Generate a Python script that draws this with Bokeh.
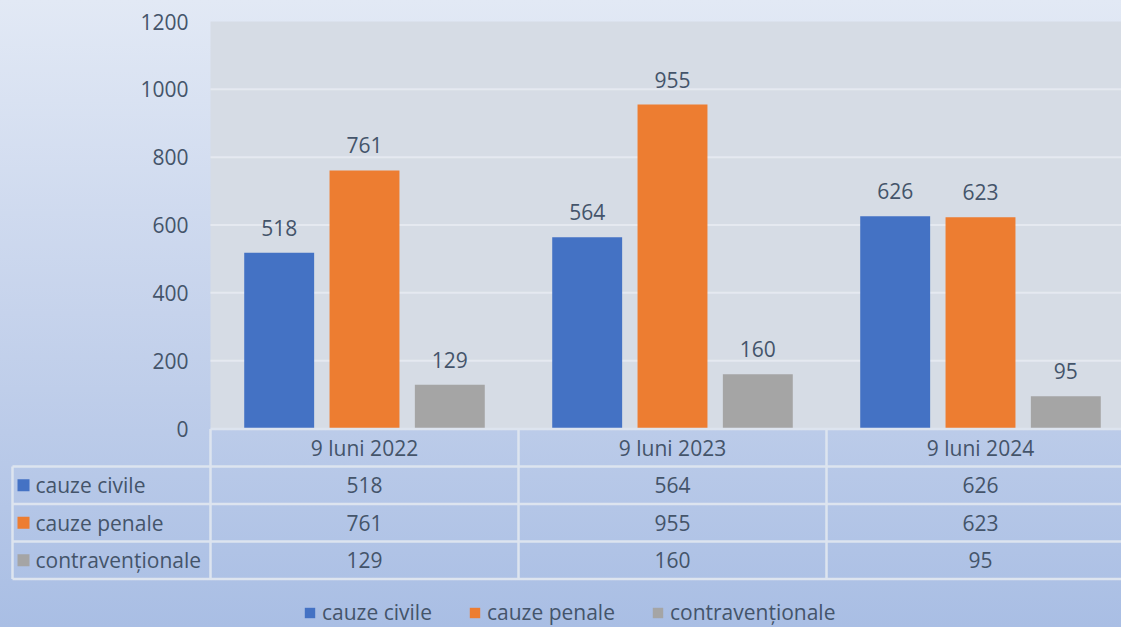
from bokeh.plotting import figure
from bokeh.models import (ColumnDataSource, Range1d, Legend, LegendItem, BoxAnnotation)
from bokeh.transform import dodge
from bokeh.core.properties import value
from bokeh.embed import file_html
from bokeh.resources import INLINE

# ---------------- data ----------------
categories = ["9 luni 2022", "9 luni 2023", "9 luni 2024"]
series_names = ["cauze civile", "cauze penale", "contravenționale"]
civile = [518, 564, 626]
penale = [761, 955, 623]
contrav = [129, 160, 95]
y_ticks = [0, 200, 400, 600, 800, 1000, 1200]

# ---------------- layout / style ----------------
colors = ["#4472c4", "#ed7d31", "#a5a5a5"]
FONT = "Open Sans"
FS = "21px"
TXT = "#44546a"
PLOT_BG = "#d6dce5"
GRID = "#e5e9f0"
TABLE_LINE = "#dde4ef"
W, H = 1121, 627
CAT_PX = 308.0          # pixels per category
PLOT_LEFT = 210         # left edge of plot area (px)
PLOT_TOP, PLOT_BOTTOM = 21, 428
ROW_PX = 37.5
ROW1_TOP = 466          # top of first series row of the table (px)
TABLE_LEFT = 12
BAR_W = 0.227
offsets = [-0.277, 0.0, 0.277]
Y_MAX = y_ticks[-1]

# ranges derived from pixel geometry (frame = whole canvas)
x0 = -0.5 - PLOT_LEFT / CAT_PX
x1 = -0.5 + (W - PLOT_LEFT) / CAT_PX
k = (PLOT_BOTTOM - PLOT_TOP) / Y_MAX            # px per value unit
y_start = -(H - PLOT_BOTTOM) / k
y_end = Y_MAX + PLOT_TOP / k
r_top = 0.5 - ROW1_TOP / ROW_PX                 # table row coordinate at canvas top
r_bottom = 0.5 + (H - ROW1_TOP) / ROW_PX        # at canvas bottom
xl = x0 + TABLE_LEFT / CAT_PX

series = [civile, penale, contrav]
fields = ["civile", "penale", "contrav"]
xs = list(range(len(categories)))
data = dict(x=xs)
for f, s in zip(fields, series):
    data[f] = s
    data[f + "_lbl"] = [str(v) for v in s]
src = ColumnDataSource(data)

p = figure(width=W, height=H, x_range=Range1d(x0, x1), y_range=Range1d(y_start, y_end),
           output_backend="svg", toolbar_location=None,
           x_axis_location=None, y_axis_location=None, min_border=0)
p.extra_y_ranges = {"table": Range1d(r_bottom, r_top)}
p.background_fill_color = None
p.border_fill_color = None
p.outline_line_color = None
p.grid.visible = False

# plot area background
p.add_layout(BoxAnnotation(left=-0.5, right=x1, bottom=0, top=Y_MAX, fill_color=PLOT_BG,
                           fill_alpha=1, line_color=None, level="underlay"))

# gridlines and value-axis labels
inner = y_ticks[1:-1]
p.segment(x0=[-0.5] * len(inner), y0=inner, x1=[x1] * len(inner), y1=inner,
          line_color=GRID, line_width=2)
p.text(x=[-0.5] * len(y_ticks), y=y_ticks, text=[str(t) for t in y_ticks], x_offset=-22,
       text_align="right", text_baseline="middle",
       text_font=value(FONT), text_font_size=FS, text_color=TXT)

# bars + data labels
for f, off, c in zip(fields, offsets, colors):
    p.vbar(x=dodge("x", off), top=f, width=BAR_W, bottom=0, source=src,
           fill_color=c, line_color=None)
    p.text(x=dodge("x", off), y=f, text=f + "_lbl", source=src,
           text_align="center", text_baseline="middle", y_offset=-25,
           text_font=value(FONT), text_font_size=FS, text_color=TXT)

# ---------------- data table ----------------
n_rows = len(series_names)
hy = [-0.5] + [r + 0.5 for r in range(n_rows + 1)]
hx = [-0.5] + [xl] * (n_rows + 1)
p.segment(x0=hx, y0=hy, x1=[x1 + 1] * len(hy), y1=hy, y_range_name="table",
          line_color=TABLE_LINE, line_width=2.5)
vx = [xl] + [i - 0.5 for i in range(len(categories) + 1)]
vy0 = [0.5] + [-0.5] * (len(categories) + 1)
p.segment(x0=vx, y0=vy0, x1=vx, y1=[n_rows + 0.5] * len(vx), y_range_name="table",
          line_color=TABLE_LINE, line_width=2.5)

p.text(x=xs, y=[0] * len(xs), text=categories, y_range_name="table",
       text_align="center", text_baseline="middle",
       text_font=value(FONT), text_font_size=FS, text_color=TXT)

legend_items = []
for r, (name, s, c) in enumerate(zip(series_names, series, colors), start=1):
    p.text(x=xs, y=[r] * len(xs), text=[str(v) for v in s], y_range_name="table",
           text_align="center", text_baseline="middle",
           text_font=value(FONT), text_font_size=FS, text_color=TXT)
    p.text(x=[xl], y=[r], text=[name], x_offset=23, y_range_name="table",
           text_align="left", text_baseline="middle",
           text_font=value(FONT), text_font_size=FS, text_color=TXT)
    sq = p.rect(x=[xl + 11 / CAT_PX], y=[r], width=12, height=12, y_range_name="table",
                width_units="screen", height_units="screen", fill_color=c, line_color=None)
    legend_items.append(LegendItem(label=name, renderers=[sq]))

legend = Legend(items=legend_items, orientation="horizontal", location=(303, 1),
                padding=0, margin=0, spacing=36, label_standoff=6,
                glyph_width=13, glyph_height=13, label_height=20,
                label_text_font=FONT, label_text_font_size=FS, label_text_color=TXT,
                background_fill_alpha=0, border_line_color=None)
p.add_layout(legend)

p.styles = {"background": "linear-gradient(180deg, #e2e9f5 0%, #c6d3ec 50%, #a9bee4 100%)"}

open("out.html", "w").write(file_html(p, INLINE))
